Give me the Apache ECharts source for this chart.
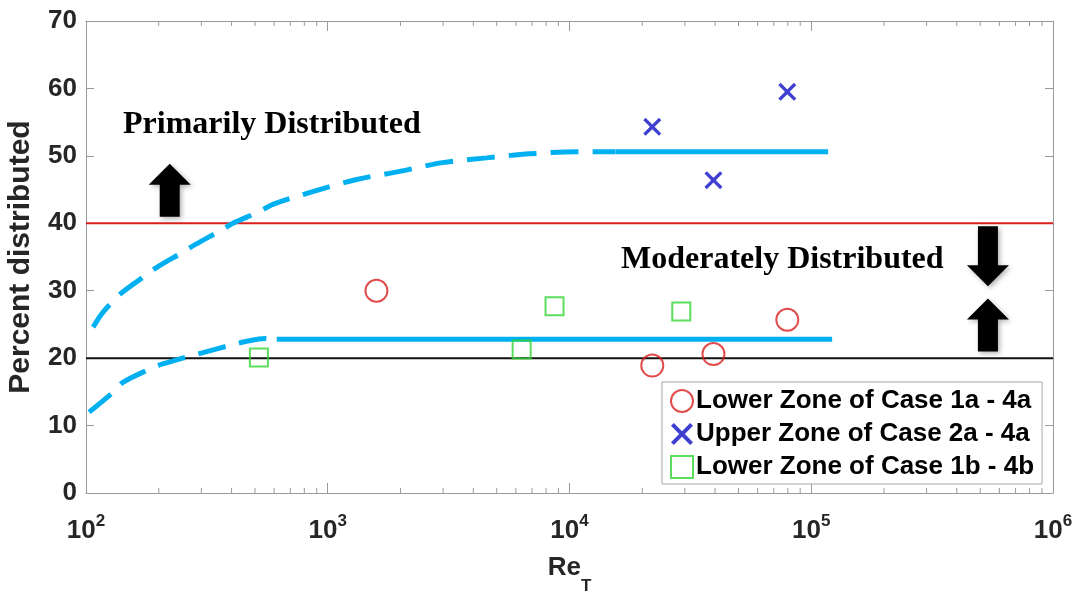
<!DOCTYPE html>
<html><head><meta charset="utf-8">
<script src="https://cdn.jsdelivr.net/npm/echarts@6/dist/echarts.min.js"></script>
<style>html,body{margin:0;padding:0;background:#fff}#c{width:1077px;height:592px}</style>
</head><body><div id="c"></div>
<script>
// ---- data ----
const lowerZoneA = [[1590, 30.0], [22000, 18.9], [39400, 20.6], [79600, 25.7]];
const upperZoneA = [[22000, 54.3], [39400, 46.4], [79600, 59.5]];
const lowerZoneB = [[519, 20.1], [6340, 21.3], [8670, 27.7], [29000, 26.9]];

const upperCurveDashed = [[107, 24.6], [117.5, 26.8], [139.6, 29.6], [173.8, 32.1], [195, 33.4],
  [251, 35.7], [285, 36.9], [368, 39.1], [405, 40.0], [519, 41.7], [593, 42.8], [867, 44.7],
  [1318, 46.5], [1986, 47.7], [2985, 49.0], [4539, 49.7], [6839, 50.3], [10715, 50.6], [15488, 50.6]];
const upperLevelSolid = [[15500, 50.6], [117500, 50.6]];
const lowerCurveDashed = [[103, 12.0], [129, 14.9], [142, 16.4], [184, 18.4], [206, 19.1],
  [269, 20.3], [310, 20.9], [405, 22.0], [462, 22.5], [550, 22.9], [615, 22.8]];
const lowerLevelSolid = [[615, 22.8], [122000, 22.8]];

const primaryThreshold = [[100, 40], [1000000, 40]];
const moderateThreshold = [[100, 20], [1000000, 20]];

const upArrows = [[222, 44.9], [538000, 24.9]];
const downArrows = [[538000, 35.1]];

const xMin = 100, xMax = 1000000;
const yMin = 0, yMax = 70, yStep = 10;
const minorTickValues = [200,300,400,500,600,700,800,900,
  2000,3000,4000,5000,6000,7000,8000,9000,
  20000,30000,40000,50000,60000,70000,80000,90000,
  200000,300000,400000,500000,600000,700000,800000,900000];

const seriesNames = ['Lower Zone of Case 1a - 4a', 'Upper Zone of Case 2a - 4a', 'Lower Zone of Case 1b - 4b'];

// ---- styling ----
const SANS = 'Liberation Sans, Arial, sans-serif';
const SERIF = 'Liberation Serif, Times New Roman, serif';
const TXT = '#262626';
const AX = '#9a9a9a';
const CYAN = '#00b0f0';
const RED = '#d9201f';
const BLUE = '#0f0fc4';
const GREEN = '#33d633';
const X_PATH = 'path://M0,2.6 L2.6,0 L10,7.4 L17.4,0 L20,2.6 L12.6,10 L20,17.4 L17.4,20 L10,12.6 L2.6,20 L0,17.4 L7.4,10 Z';
const UP_PATH = 'path://M21,0 L42,21 L31,21 L31,53 L11,53 L11,21 L0,21 Z';
const DOWN_PATH = 'path://M11,0 L31,0 L31,39 L42,39 L21,60 L0,39 L11,39 Z';

const chart = echarts.init(document.getElementById('c'), null, {renderer: 'canvas'});

const xLabelRich = {
  a: {fontSize: 26, fontWeight: 'bold', color: TXT, fontFamily: SANS, lineHeight: 36},
  s: {fontSize: 17, fontWeight: 'bold', color: TXT, fontFamily: SANS, lineHeight: 17, verticalAlign: 'top'}
};

const option = {
  animation: false,
  backgroundColor: '#fff',
  grid: {left: 86, right: 24, top: 21, bottom: 99, containLabel: false, outerBoundsMode: 'none'},
  xAxis: [{
    type: 'log', logBase: 10, min: xMin, max: xMax, position: 'bottom',
    name: '{r|Re}{t|T}', nameLocation: 'middle', nameGap: 48,
    nameTextStyle: {
      rich: {
        r: {fontSize: 26, fontWeight: 'bold', color: TXT, fontFamily: SANS, lineHeight: 54},
        t: {fontSize: 17, fontWeight: 'bold', color: TXT, fontFamily: SANS, lineHeight: 17, verticalAlign: 'bottom'}
      }
    },
    axisLine: {show: true, onZero: false, lineStyle: {color: AX, width: 1}},
    axisTick: {show: true, inside: true, length: 10, lineStyle: {color: AX}},
    axisLabel: {margin: 20, formatter: v => '{a|10}{s|' + Math.round(Math.log10(v)) + '}', rich: xLabelRich},
    splitLine: {show: false}
  }, {
    type: 'log', logBase: 10, min: xMin, max: xMax, position: 'top',
    axisLine: {show: true, onZero: false, lineStyle: {color: AX, width: 1}},
    axisTick: {show: true, inside: true, length: 10, lineStyle: {color: AX}},
    axisLabel: {show: false}, splitLine: {show: false}
  }],
  yAxis: [{
    type: 'value', min: yMin, max: yMax, interval: yStep, position: 'left',
    name: 'Percent distributed', nameLocation: 'middle', nameGap: 50,
    nameTextStyle: {fontSize: 30, fontWeight: 'bold', color: TXT, fontFamily: SANS},
    axisLine: {show: true, lineStyle: {color: AX, width: 1}},
    axisTick: {show: true, inside: true, length: 8, lineStyle: {color: AX}},
    axisLabel: {margin: 9, fontSize: 26, fontWeight: 'bold', color: TXT, fontFamily: SANS},
    splitLine: {show: false}
  }, {
    type: 'value', min: yMin, max: yMax, interval: yStep, position: 'right',
    axisLine: {show: true, lineStyle: {color: AX, width: 1}},
    axisTick: {show: true, inside: true, length: 8, lineStyle: {color: AX}},
    axisLabel: {show: false}, splitLine: {show: false}
  }],
  legend: {
    orient: 'vertical', left: 662, top: 382,
    padding: [6, 8, 4, 8], itemGap: 7, itemWidth: 22, itemHeight: 22,
    backgroundColor: '#fff', borderColor: '#a8a8a8', borderWidth: 1, borderRadius: 0,
    textStyle: {fontSize: 26, fontWeight: 'bold', color: '#000', fontFamily: SANS, padding: [0, 0, 0, -2]},
    data: [
      {name: seriesNames[0], icon: 'circle', itemStyle: {color: 'rgba(0,0,0,0)', borderColor: RED, borderWidth: 2}},
      {name: seriesNames[1], icon: X_PATH, itemStyle: {color: BLUE, borderWidth: 0}},
      {name: seriesNames[2], icon: 'rect', itemStyle: {color: 'rgba(0,0,0,0)', borderColor: GREEN, borderWidth: 2}}
    ],
    z: 10
  },
  graphic: [
    {type: 'text', left: 123, top: 109, z: 20,
      style: {text: 'Primarily Distributed', font: 'bold 32px ' + SERIF, fill: '#000'}},
    {type: 'text', left: 621, top: 244, z: 20,
      style: {text: 'Moderately Distributed', font: 'bold 32px ' + SERIF, fill: '#000'}}
  ],
  series: [
    {type: 'line', data: primaryThreshold, symbol: 'none', silent: true,
      lineStyle: {color: RED, width: 2}, z: 2},
    {type: 'line', data: moderateThreshold, symbol: 'none', silent: true,
      lineStyle: {color: '#111', width: 2}, z: 2},
    {type: 'line', data: upperCurveDashed, symbol: 'none', smooth: 0.3, silent: true,
      lineStyle: {color: CYAN, width: 5, type: [28, 14], cap: 'butt'}, z: 3},
    {type: 'line', data: lowerCurveDashed, symbol: 'none', smooth: 0.3, silent: true,
      lineStyle: {color: CYAN, width: 5, type: [28, 14], cap: 'butt'}, z: 3},
    {type: 'line', data: upperLevelSolid, symbol: 'none', silent: true,
      lineStyle: {color: CYAN, width: 5}, z: 3},
    {type: 'line', data: lowerLevelSolid, symbol: 'none', silent: true,
      lineStyle: {color: CYAN, width: 5}, z: 3},
    {type: 'custom', silent: true, z: 1,
      data: minorTickValues.map(v => [v]),
      renderItem: (params, api) => {
        const v = api.value(0);
        const b = api.coord([v, yMin]);
        const t = api.coord([v, yMax]);
        return {type: 'group', children: [
          {type: 'line', shape: {x1: b[0], y1: b[1], x2: b[0], y2: b[1] - 5}, style: {stroke: AX, lineWidth: 1}},
          {type: 'line', shape: {x1: t[0], y1: t[1], x2: t[0], y2: t[1] + 5}, style: {stroke: AX, lineWidth: 1}}
        ]};
      }},
    {name: seriesNames[0], type: 'scatter', data: lowerZoneA, symbol: 'circle', symbolSize: 22,
      itemStyle: {color: 'rgba(0,0,0,0)', borderColor: RED, borderWidth: 2}, z: 5},
    {name: seriesNames[1], type: 'scatter', data: upperZoneA, symbol: X_PATH, symbolSize: 18,
      itemStyle: {color: BLUE}, z: 5},
    {name: seriesNames[2], type: 'scatter', data: lowerZoneB, symbol: 'rect', symbolSize: 18,
      itemStyle: {color: 'rgba(0,0,0,0)', borderColor: GREEN, borderWidth: 2}, z: 5},
    {type: 'scatter', data: upArrows, symbol: UP_PATH, symbolSize: [42, 53], silent: true,
      itemStyle: {color: '#000', opacity: 1, shadowBlur: 5, shadowColor: 'rgba(0,0,0,0.3)', shadowOffsetX: 2, shadowOffsetY: 2}, z: 6},
    {type: 'scatter', data: downArrows, symbol: DOWN_PATH, symbolSize: [42, 60], silent: true,
      itemStyle: {color: '#000', opacity: 1, shadowBlur: 5, shadowColor: 'rgba(0,0,0,0.3)', shadowOffsetX: 2, shadowOffsetY: 2}, z: 6}
  ]
};
chart.setOption(option);
</script>
</body></html>
